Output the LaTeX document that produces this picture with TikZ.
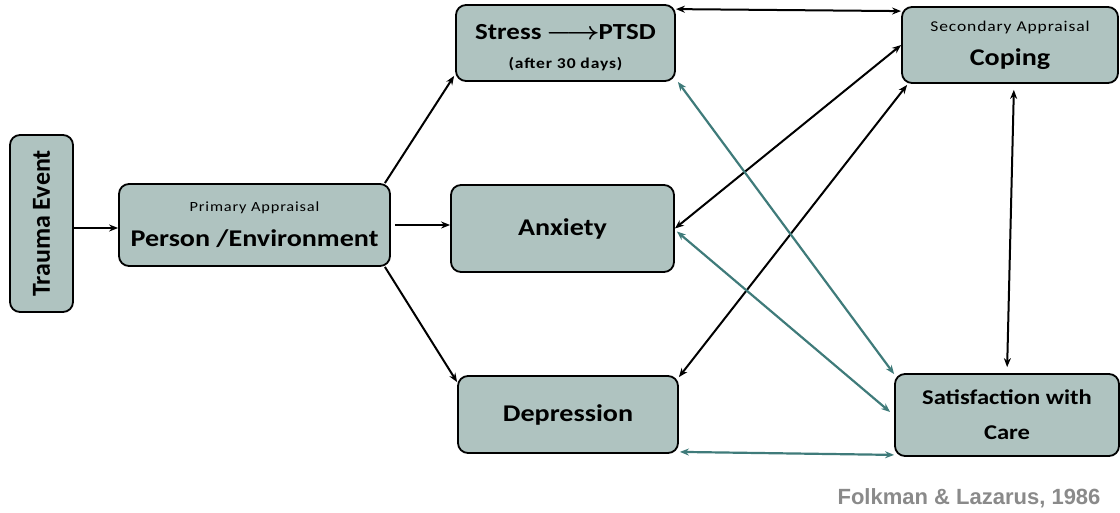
\documentclass[tikz,border=0pt]{standalone}
\usepackage{fontspec}
\usepackage{graphicx}
\setmainfont{Carlito}
\newfontfamily\citefont{Liberation Sans}
\newfontfamily\smallfont[LetterSpace=5]{Carlito}
\usetikzlibrary{arrows.meta}
\definecolor{boxfill}{HTML}{AFC3C0}
\definecolor{tealarrow}{HTML}{3F7B7A}
\definecolor{citegray}{HTML}{8A8A8A}
\newcommand{\wide}[1]{\scalebox{1.17}[1]{#1}}
\tikzset{
  box/.style={draw=black, line width=1.8pt, fill=boxfill, rounded corners=10pt, align=center, inner sep=0pt},
  big/.style={font=\fontsize{24}{28}\selectfont\bfseries},
  blk/.style={line width=2pt, {Stealth[length=9pt,width=7pt]}-{Stealth[length=9pt,width=7pt]}},
  blkone/.style={line width=2pt, -{Stealth[length=9pt,width=7pt]}},
  tl/.style={line width=2.2pt, draw=tealarrow, {Stealth[length=9pt,width=7pt]}-{Stealth[length=9pt,width=7pt]}, color=tealarrow}
}
\begin{document}
\begin{tikzpicture}[x=1pt,y=-1pt]
\useasboundingbox (0,0) rectangle (1120,512);
\node[box, minimum width=63pt, minimum height=177pt] (trauma) at (41.5,223.5)
  {\rotatebox{90}{\fontsize{26}{28}\selectfont\bfseries Trauma Event}};
\node[box, minimum width=271pt, minimum height=82pt] (person) at (254.5,225)
  {\wide{\smallfont\fontsize{14}{15}\selectfont Primary Appraisal}\\[15pt]\wide{\fontsize{24}{26}\selectfont\bfseries Person /Environment}};
\node[box, minimum width=219pt, minimum height=76pt] (stress) at (565.5,43)
  {\rule{0pt}{25pt}\wide{\fontsize{23}{25}\selectfont\bfseries Stress\,{\boldmath$\longrightarrow$}\hspace{-1pt}PTSD}\\[17pt]\wide{\smallfont\fontsize{15}{16}\selectfont\bfseries (after 30 days)}};
\node[box, big, minimum width=223pt, minimum height=87pt] (anxiety) at (562.5,228.5) {\wide{Anxiety}};
\node[box, big, minimum width=220pt, minimum height=77pt] (depression) at (568,414.5) {\wide{Depression}};
\node[box, minimum width=216pt, minimum height=76pt] (coping) at (1010,45)
  {\wide{\smallfont\fontsize{15}{16}\selectfont Secondary Appraisal}\\[14pt]\wide{\fontsize{24}{26}\selectfont\bfseries Coping}};
\node[box, minimum width=224pt, minimum height=82pt] (satisfaction) at (1007,415)
  {\wide{\fontsize{21}{23}\selectfont\bfseries Satisfaction with}\\[20pt]\wide{\fontsize{21}{23}\selectfont\bfseries Care}};
\node[font=\citefont\fontsize{22}{24}\selectfont\bfseries, text=citegray, anchor=east] (cite) at (1104,498) {Folkman \& Lazarus, 1986};
% black arrows
\draw[blkone] (trauma.east |- 0,228) -- (person.west |- 0,228);
\draw[blkone] ([xshift=-6pt]person.north east) -- ([yshift=6pt,xshift=-1pt]stress.south west);
\draw[blkone] ([xshift=4pt]person.east) -- (person.east -| anxiety.west);
\draw[blkone] ([xshift=-6pt]person.south east) -- ([yshift=-7pt]depression.north west);
\draw[blk] ([yshift=-5pt]stress.north east) -- ([yshift=-5pt]coping.north west);
\draw[blk] (anxiety.east) -- (coping.west);
\draw[blk] ([yshift=-2pt]depression.north east) -- ([xshift=6pt,yshift=-1pt]coping.south west);
\draw[blk, shorten <=6pt, shorten >=6pt] ([xshift=4pt]coping.south) -- (satisfaction.north);
% teal arrows
\draw[tl] ([xshift=2pt]stress.south east) -- ([yshift=-1pt]satisfaction.north west);
\draw[tl] ([xshift=2pt,yshift=-3pt]anxiety.east) -- ([xshift=-4pt,yshift=3pt]satisfaction.west);
\draw[tl] ([xshift=1pt,yshift=2pt]depression.south east) -- ([yshift=2pt]satisfaction.south west);
\end{tikzpicture}
\end{document}
